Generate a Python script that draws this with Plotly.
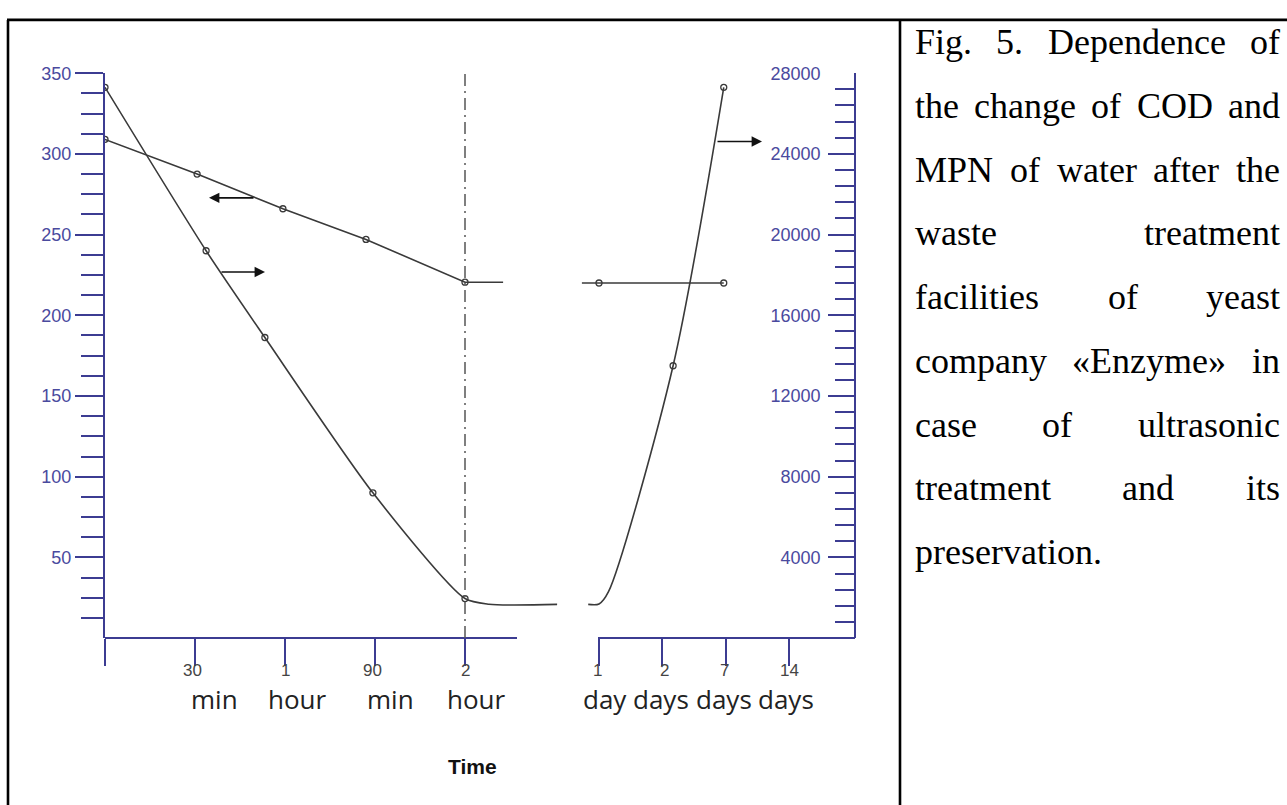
import plotly.graph_objects as go

W, H = 1287, 805

# ---------------- data ----------------
# left panel: time in minutes
left_tick_vals = [0, 30, 60, 90, 120]
left_tick_nums = ["", "30", "1", "90", "2"]
left_tick_units = ["", "min", "hour", "min", "hour"]
left_num_shift = [0, -3, 0, -3, 0]
left_unit_shift = [0, 19, 12, 15, 11]

# right panel: ordinal day positions
right_tick_pos = [1, 2, 3, 4]
right_tick_nums = ["1", "2", "7", "14"]
right_tick_units = ["day", "days", "days", "days"]
right_num_shift = [-2, 2, -1, 1]
right_unit_shift = [6, -1, -2, -3]

# COD (left axis) vs minutes
cod_min = [0, 30.7, 59.3, 87, 120]
cod_val = [309, 287.5, 266, 247, 220.5]
cod_tail_min = [120, 132.7]
cod_tail_val = [220.5, 220.5]

# MPN (right axis) vs minutes
mpn_min = [0, 33.7, 53.3, 89.3, 120]
mpn_val = [27300, 19200, 14900, 7200, 1960]
mpn_tail_min = [120, 128, 150.7]
mpn_tail_val = [1960, 1680, 1670]

# COD vs days (position)
cod_day_pos = [0.73, 1.0, 2.97]
cod_day_val = [220, 220, 220]
cod_day_mark_pos = [1.0, 2.97]
cod_day_mark_val = [220, 220]

# MPN vs days (position)
mpn_day_pos = [0.83, 1.0, 1.15, 2.17, 2.97]
mpn_day_val = [1670, 1690, 2300, 13500, 27300]
mpn_day_mark_pos = [2.17, 2.97]
mpn_day_mark_val = [13500, 27300]

cod_ticks = [50, 100, 150, 200, 250, 300, 350]
cod_labels = ["50", "100", "150", "200", "250", "300", "350"]
mpn_ticks = [4000, 8000, 12000, 16000, 20000, 24000, 28000]
mpn_labels = ["4000", "8000", "12000", "16000", "20000", "24000", "28000"]

caption_lines = [
    "Fig. 5. Dependence of",
    "the change of COD and",
    "MPN of water after the",
    "waste treatment",
    "facilities of yeast",
    "company «Enzyme» in",
    "case of ultrasonic",
    "treatment and its",
    "preservation.",
]

# ---------------- styling helpers ----------------
def PX(p):
    return p / W


def PY(p):
    return 1 - p / H


NAVY = "#3c3c92"
LBL = "#4a4a9e"
INK = "#3a3a3a"
SANS = "Liberation Sans, Arial, sans-serif"

AX_L, AX_R, Y_TOP, Y_BOT = 105, 854, 64, 636
LX_DOM = (105, 560)
MIN_PX = 3.0
RX_DOM = (575, 854)
DAY_PX = 63.33
DAY1_PX = 599

x1_range = [0, (LX_DOM[1] - LX_DOM[0]) / MIN_PX]
x2_range = [1 - (DAY1_PX - RX_DOM[0]) / DAY_PX, 1 + (RX_DOM[1] - DAY1_PX) / DAY_PX]

fig = go.Figure()

line_style = dict(color=INK, width=1.6)
mark_style = dict(symbol="circle-open", size=6, color=INK, line=dict(width=1.3))

fig.add_trace(go.Scatter(x=cod_min + cod_tail_min[1:], y=cod_val + cod_tail_val[1:],
                         mode="lines", line=line_style, xaxis="x", yaxis="y",
                         hoverinfo="skip", showlegend=False))
fig.add_trace(go.Scatter(x=cod_min, y=cod_val, mode="markers", marker=mark_style,
                         xaxis="x", yaxis="y", showlegend=False))
fig.add_trace(go.Scatter(x=mpn_min + mpn_tail_min[1:], y=mpn_val + mpn_tail_val[1:],
                         mode="lines", line=dict(line_style, shape="spline", smoothing=0.7),
                         xaxis="x", yaxis="y2", hoverinfo="skip", showlegend=False))
fig.add_trace(go.Scatter(x=mpn_min, y=mpn_val, mode="markers", marker=mark_style,
                         xaxis="x", yaxis="y2", showlegend=False))
fig.add_trace(go.Scatter(x=cod_day_pos, y=cod_day_val, mode="lines", line=line_style,
                         xaxis="x2", yaxis="y", hoverinfo="skip", showlegend=False))
fig.add_trace(go.Scatter(x=cod_day_mark_pos, y=cod_day_mark_val, mode="markers",
                         marker=mark_style, xaxis="x2", yaxis="y", showlegend=False))
fig.add_trace(go.Scatter(x=mpn_day_pos, y=mpn_day_val, mode="lines",
                         line=dict(line_style, shape="spline", smoothing=0.8),
                         xaxis="x2", yaxis="y2", hoverinfo="skip", showlegend=False))
fig.add_trace(go.Scatter(x=mpn_day_mark_pos, y=mpn_day_mark_val, mode="markers",
                         marker=mark_style, xaxis="x2", yaxis="y2", showlegend=False))

cod_minor = [v * 12.5 for v in range(1, 28) if v % 4 != 0]
mpn_minor = [v * 800 for v in range(1, 35) if v % 5 != 0]

fig.update_layout(
    width=W, height=H, margin=dict(l=0, r=0, t=0, b=0),
    paper_bgcolor="white", plot_bgcolor="rgba(0,0,0,0)",
    showlegend=False,
    xaxis=dict(domain=[PX(LX_DOM[0]), PX(LX_DOM[1])], range=x1_range, anchor="y",
               tickmode="array", tickvals=left_tick_vals, showticklabels=False,
               ticks="outside", ticklen=27, tickwidth=2, tickcolor=NAVY,
               showline=False, showgrid=False, zeroline=False),
    xaxis2=dict(domain=[PX(RX_DOM[0]), PX(RX_DOM[1])], range=x2_range, anchor="y",
                tickmode="array", tickvals=right_tick_pos, showticklabels=False,
                ticks="outside", ticklen=27, tickwidth=2, tickcolor=NAVY,
                showline=False, showgrid=False, zeroline=False),
    yaxis=dict(domain=[PY(Y_BOT), PY(Y_TOP)], range=[0, 350], anchor="x",
               tickmode="array", tickvals=cod_ticks, ticktext=cod_labels,
               ticks="outside", ticklen=28, tickwidth=2, tickcolor=NAVY,
               minor=dict(tickmode="array", tickvals=cod_minor, ticks="outside",
                          ticklen=22, tickwidth=2, tickcolor=NAVY, showgrid=False),
               tickfont=dict(family=SANS, size=18, color=LBL),
               showline=True, linecolor=NAVY, linewidth=2,
               showgrid=False, zeroline=False),
    yaxis2=dict(overlaying="y", side="right", anchor="x2", range=[0, 28000],
                tickmode="array", tickvals=mpn_ticks, ticktext=mpn_labels,
                ticks="inside", ticklen=26, tickwidth=2, tickcolor=NAVY,
                ticklabelposition="inside", ticklabelstandoff=8,
                ticklabeloverflow="allow",
                minor=dict(tickmode="array", tickvals=mpn_minor, ticks="inside",
                           ticklen=19, tickwidth=2, tickcolor=NAVY, showgrid=False),
                tickfont=dict(family=SANS, size=18, color=LBL),
                showline=True, linecolor=NAVY, linewidth=2,
                showgrid=False, zeroline=False),
)

shapes = []
shapes.append(dict(type="line", xref="paper", yref="paper", x0=PX(AX_L), x1=PX(517),
                   y0=PY(Y_BOT), y1=PY(Y_BOT), line=dict(color=NAVY, width=2)))
shapes.append(dict(type="line", xref="paper", yref="paper", x0=PX(598), x1=PX(AX_R + 1),
                   y0=PY(Y_BOT), y1=PY(Y_BOT), line=dict(color=NAVY, width=2)))
shapes.append(dict(type="line", xref="x", yref="y", x0=120, x1=120, y0=0, y1=350,
                   line=dict(color="#555555", width=1.5, dash="12px,5px,2px,5px")))
frame = dict(color="black", width=2.6)
shapes.append(dict(type="line", xref="paper", yref="paper", x0=PX(7), x1=1,
                   y0=PY(10), y1=PY(10), line=frame))
shapes.append(dict(type="line", xref="paper", yref="paper", x0=PX(8), x1=PX(8),
                   y0=PY(10), y1=0, line=frame))
shapes.append(dict(type="line", xref="paper", yref="paper", x0=PX(900), x1=PX(900),
                   y0=PY(10), y1=0, line=frame))
fig.update_layout(shapes=shapes)

ann = []
NUM_FONT = dict(family=SANS, size=17, color="#444444")
UNIT_FONT = dict(family="Open Sans, DejaVu Sans, sans-serif", size=26, color="#222222")
NUM_Y, UNIT_Y = 669, 698
for v, n, u, ns, us in zip(left_tick_vals, left_tick_nums, left_tick_units,
                           left_num_shift, left_unit_shift):
    if n:
        ann.append(dict(xref="x", yref="paper", x=v, y=PY(NUM_Y), text=n, showarrow=False,
                        xanchor="center", yanchor="middle", xshift=ns, font=NUM_FONT,
                        borderpad=0, borderwidth=0))
    if u:
        ann.append(dict(xref="x", yref="paper", x=v, y=PY(UNIT_Y), text=u, showarrow=False,
                        xanchor="center", yanchor="middle", xshift=us, font=UNIT_FONT,
                        borderpad=0, borderwidth=0))
for v, n, u, ns, us in zip(right_tick_pos, right_tick_nums, right_tick_units,
                           right_num_shift, right_unit_shift):
    ann.append(dict(xref="x2", yref="paper", x=v, y=PY(NUM_Y), text=n, showarrow=False,
                    xanchor="center", yanchor="middle", xshift=ns, font=NUM_FONT,
                    borderpad=0, borderwidth=0))
    ann.append(dict(xref="x2", yref="paper", x=v, y=PY(UNIT_Y), text=u, showarrow=False,
                    xanchor="center", yanchor="middle", xshift=us, font=UNIT_FONT,
                    borderpad=0, borderwidth=0))
ann.append(dict(xref="paper", yref="paper", x=PX(472), y=PY(766), text="<b>Time</b>",
                showarrow=False, xanchor="center", yanchor="middle",
                font=dict(family=SANS, size=21, color="#111111")))
arrow = dict(showarrow=True, arrowhead=2, arrowsize=1.3, arrowwidth=1.6,
             arrowcolor="#111111", text="", standoff=0, ay=0)
px_per_cod = (Y_BOT - 65) / 350
ann.append(dict(arrow, xref="x", yref="y", x=(209 - AX_L) / MIN_PX,
                y=(Y_BOT - 191) / px_per_cod, ax=46))
ann.append(dict(arrow, xref="x", yref="y", x=(265 - AX_L) / MIN_PX,
                y=(Y_BOT - 266) / px_per_cod, ax=-45))
ann.append(dict(arrow, xref="x2", yref="y", x=1 + (762 - DAY1_PX) / DAY_PX,
                y=(Y_BOT - 134) / px_per_cod, ax=-46))

TNR = {" ": 250, ".": 250, ",": 250, "«": 500, "»": 500, "5": 500,
       "A": 722, "B": 667, "C": 667, "D": 722, "E": 611, "F": 556, "G": 722, "H": 722,
       "I": 333, "M": 889, "N": 722, "O": 722, "P": 556, "T": 611,
       "a": 444, "b": 500, "c": 444, "d": 500, "e": 444, "f": 333, "g": 500, "h": 500,
       "i": 278, "j": 278, "k": 500, "l": 278, "m": 778, "n": 500, "o": 500, "p": 500,
       "q": 500, "r": 333, "s": 389, "t": 278, "u": 500, "v": 500, "w": 722, "x": 500,
       "y": 500, "z": 444}
CAP_FS = 36
CAP_L, CAP_R = 915, 1280
CAP_B0, CAP_DY = 45, 64.5


def tw(s):
    return sum(TNR.get(c, 500) for c in s) / 1000.0 * CAP_FS


cap_font = dict(family="Liberation Serif, Times New Roman, serif", size=CAP_FS, color="black")
for i, line in enumerate(caption_lines):
    base = CAP_B0 + CAP_DY * i
    yc = PY(base - 0.34 * CAP_FS)
    words = line.split(" ")
    if i == len(caption_lines) - 1 or len(words) == 1:
        ann.append(dict(xref="paper", yref="paper", x=PX(CAP_L), y=yc, text=line,
                        showarrow=False, xanchor="left", yanchor="middle",
                        borderpad=0, borderwidth=0, font=cap_font))
        continue
    widths = [tw(w) for w in words]
    gap = (CAP_R - CAP_L - sum(widths)) / (len(words) - 1)
    x = CAP_L
    for w, wd in zip(words, widths):
        ann.append(dict(xref="paper", yref="paper", x=PX(x), y=yc, text=w,
                        showarrow=False, xanchor="left", yanchor="middle",
                        borderpad=0, borderwidth=0, font=cap_font))
        x += wd + gap

fig.update_layout(annotations=ann)

fig.write_html("out.html", config={"displayModeBar": False},
               post_script="document.body.style.margin='0';document.body.style.overflow='hidden';")
